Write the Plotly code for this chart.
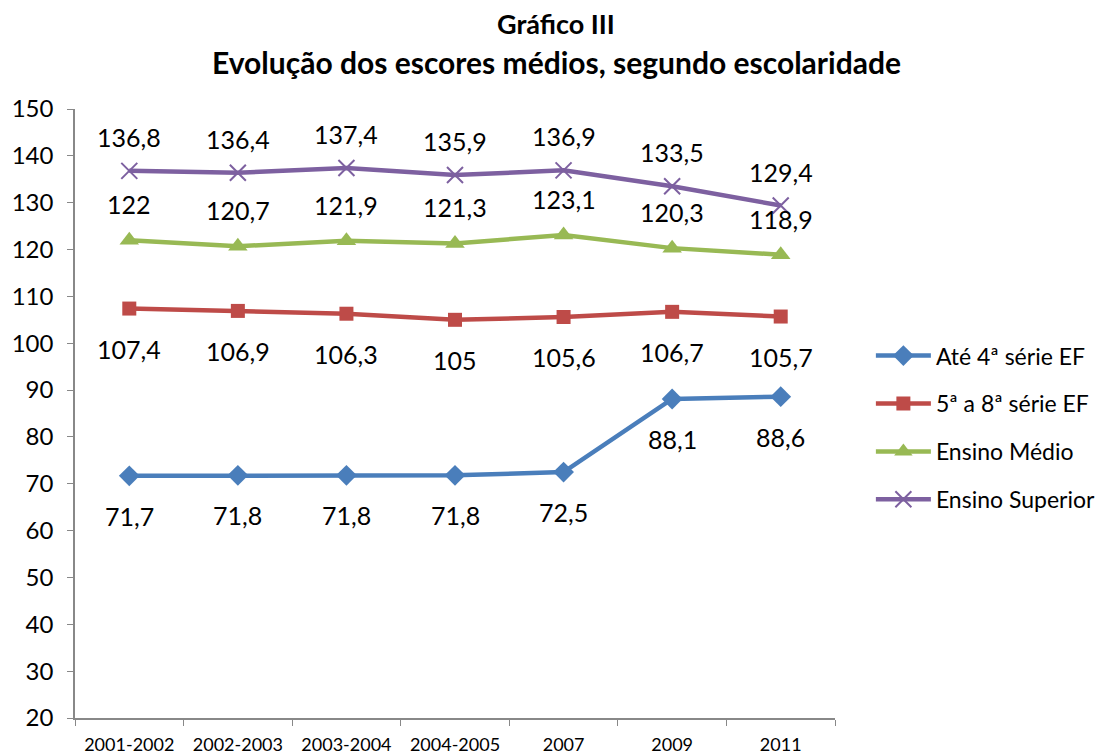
import plotly.graph_objects as go

# data
periods = ["2001-2002", "2002-2003", "2003-2004", "2004-2005", "2007", "2009", "2011"]
ate_4a = [71.7, 71.8, 71.8, 71.8, 72.5, 88.1, 88.6]
de_5a_8a = [107.4, 106.9, 106.3, 105, 105.6, 106.7, 105.7]
ensino_medio = [122, 120.7, 121.9, 121.3, 123.1, 120.3, 118.9]
ensino_superior = [136.8, 136.4, 137.4, 135.9, 136.9, 133.5, 129.4]
y_ticks = list(range(20, 151, 10))

FONT = "Lato, Carlito, Calibri, sans-serif"


def fmt(v):
    s = f"{v:.1f}".replace(".", ",")
    return s[:-2] if s.endswith(",0") else s


series = [
    ("Até 4ª série EF", ate_4a, "#4A7EBB", dict(symbol="diamond", size=16), 40),
    ("5ª a 8ª série EF", de_5a_8a, "#BE4B48", dict(symbol="square", size=14), 40),
    ("Ensino Médio", ensino_medio, "#98B954", dict(symbol="triangle-up", size=17), -36),
    ("Ensino Superior", ensino_superior, "#7D60A0",
     dict(symbol="x-thin-open", size=16, line=dict(width=2, color="#7D60A0")), -34),
]

fig = go.Figure()
annotations = []
for name, vals, color, marker, shift in series:
    m = dict(color=color)
    m.update(marker)
    fig.add_trace(go.Scatter(
        x=periods, y=vals, mode="lines+markers", name=name,
        line=dict(color=color, width=4.5), marker=m, legendgroup=name,
    ))
    for i, v in enumerate(vals):
        annotations.append(dict(
            x=i, y=v, text=fmt(v), showarrow=False, yshift=-shift,
            font=dict(family=FONT, size=25, color="black"),
        ))

# page body has an 8px margin, so the figure is drawn 8px in from the top-left
annotations += [
    dict(xref="paper", yref="paper", x=0.633, y=1.14, yanchor="middle",
         text="<b>Gráfico III</b>",
         showarrow=False, font=dict(family=FONT, size=27, color="black")),
    dict(xref="paper", yref="paper", x=0.633, y=1.077, yanchor="middle",
         text="<b>Evolução dos escores médios, segundo escolaridade</b>",
         showarrow=False, font=dict(family=FONT, size=30, color="black")),
]

fig.update_layout(
    width=1096, height=748,
    margin=dict(l=67, r=269, t=101, b=38),
    paper_bgcolor="white", plot_bgcolor="white",
    font=dict(family=FONT, color="black"),
    annotations=annotations,
    legend=dict(xref="container", yref="container", x=0.7873, y=0.564,
                xanchor="left", yanchor="top", font=dict(size=23),
                tracegroupgap=15, itemwidth=55),
)
fig.update_xaxes(
    type="category", tickson="boundaries", ticks="outside", ticklen=6,
    tickcolor="#888888", showline=True, linecolor="#888888", linewidth=1.5,
    showgrid=False, tickfont=dict(size=18), range=[-0.5, 6.5],
    ticklabelstandoff=10, automargin=False,
)
fig.update_yaxes(
    range=[20, 150], tickvals=y_ticks, ticks="outside", ticklen=6,
    tickcolor="#888888", showline=True, linecolor="#888888", linewidth=1.5,
    showgrid=False, zeroline=False, tickfont=dict(size=24),
    ticklabelstandoff=9, automargin=False,
)

fig.write_html("out.html")
